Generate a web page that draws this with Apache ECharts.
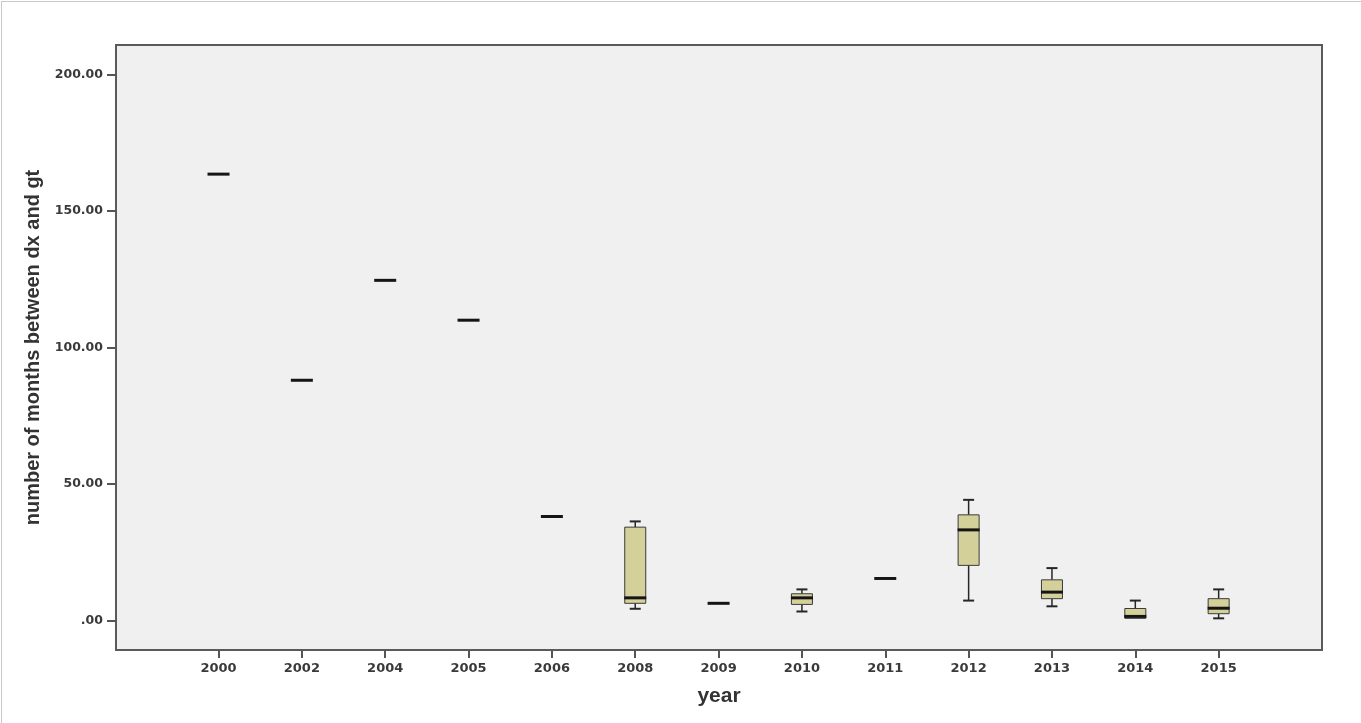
<!DOCTYPE html>
<html>
<head>
<meta charset="utf-8">
<script src="https://cdn.jsdelivr.net/npm/echarts@6/dist/echarts.min.js"></script>
<style>
  html, body { margin: 0; padding: 0; background: #ffffff; }
  #wrap { position: relative; width: 1361px; height: 723px; }
  #chart { position: absolute; left: 0; top: 0; width: 1361px; height: 723px; }
  #edge { position: absolute; left: 1px; top: 1px; right: 0; bottom: 0;
          border-top: 1px solid #c8c8c8; border-left: 1px solid #c8c8c8; pointer-events: none; }
</style>
</head>
<body>
<div id="wrap"><div id="chart"></div><div id="edge"></div></div>
<script>
// ---- data ----
const years   = ['2000','2002','2004','2005','2006','2008','2009','2010','2011','2012','2013','2014','2015'];
const mins    = [163.5, 88.0, 124.6, 110.0, 38.1,  4.3, 6.3,  3.3, 15.4,  7.3,  5.2, 0.8,  0.8];
const q1s     = [163.5, 88.0, 124.6, 110.0, 38.1,  6.3, 6.3,  5.9, 15.4, 20.2,  8.0, 0.8,  2.5];
const medians = [163.5, 88.0, 124.6, 110.0, 38.1,  8.3, 6.3,  8.3, 15.4, 33.2, 10.4, 1.5,  4.5];
const q3s     = [163.5, 88.0, 124.6, 110.0, 38.1, 34.2, 6.3,  9.8, 15.4, 38.7, 14.9, 4.4,  8.0];
const maxs    = [163.5, 88.0, 124.6, 110.0, 38.1, 36.3, 6.3, 11.4, 15.4, 44.2, 19.2, 7.3, 11.4];
const yTicks  = [0, 50, 100, 150, 200];

const seriesData = years.map((y, i) => [i, mins[i], q1s[i], medians[i], q3s[i], maxs[i]]);
const xIdx = years.map((y, i) => i);

const BOX_FILL = '#d4d09a';
const LINE = '#262626';

function renderItem(params, api) {
  const x = api.value(0);
  const vMin = api.value(1), vQ1 = api.value(2), vMed = api.value(3), vQ3 = api.value(4), vMax = api.value(5);
  const pMin = api.coord([x, vMin]);
  const pQ1 = api.coord([x, vQ1]);
  const pMed = api.coord([x, vMed]);
  const pQ3 = api.coord([x, vQ3]);
  const pMax = api.coord([x, vMax]);
  const cx = pMed[0];
  const bw = 21, cw = 11, mw = 22;
  const children = [];
  const lineStyle = { stroke: LINE, lineWidth: 1.5 };
  if (vMax > vQ3) {
    children.push({ type: 'line', shape: { x1: cx, y1: pQ3[1], x2: cx, y2: pMax[1] }, style: lineStyle });
    children.push({ type: 'line', shape: { x1: cx - cw / 2, y1: pMax[1], x2: cx + cw / 2, y2: pMax[1] }, style: { stroke: LINE, lineWidth: 2 } });
  }
  if (vMin < vQ1) {
    children.push({ type: 'line', shape: { x1: cx, y1: pQ1[1], x2: cx, y2: pMin[1] }, style: lineStyle });
    children.push({ type: 'line', shape: { x1: cx - cw / 2, y1: pMin[1], x2: cx + cw / 2, y2: pMin[1] }, style: { stroke: LINE, lineWidth: 2 } });
  }
  if (vQ3 > vQ1) {
    children.push({ type: 'rect', shape: { x: cx - bw / 2, y: pQ3[1], width: bw, height: pQ1[1] - pQ3[1] },
      style: { fill: BOX_FILL, stroke: '#3a3a3a', lineWidth: 1 } });
  }
  children.push({ type: 'line', shape: { x1: cx - mw / 2, y1: pMed[1], x2: cx + mw / 2, y2: pMed[1] },
    style: { stroke: '#151515', lineWidth: 3 } });
  return { type: 'group', children: children };
}

const chart = echarts.init(document.getElementById('chart'), null, { renderer: 'canvas' });
const tickFont = { fontFamily: '"DejaVu Sans"', fontWeight: 'bold', fontSize: 12.5, color: '#3a3a3a' };

chart.setOption({
  animation: false,
  backgroundColor: '#ffffff',
  grid: {
    left: 116, right: 39, top: 45, bottom: 73,
    show: true, backgroundColor: '#f0f0f0', borderColor: '#5a5a5a', borderWidth: 2
  },
  xAxis: {
    type: 'value',
    min: -1.23, max: 13.24,
    name: 'year',
    nameLocation: 'middle',
    nameGap: 36,
    nameTextStyle: { fontFamily: '"Liberation Sans", Arial', fontWeight: 'bold', fontSize: 21, color: '#333' },
    axisLine: { show: false, onZero: false },
    splitLine: { show: false },
    axisTick: { show: true, length: 8, customValues: xIdx, lineStyle: { color: '#555', width: 2 } },
    axisLabel: Object.assign({ customValues: xIdx, margin: 12,
      formatter: v => years[Math.round(v)] }, tickFont, { fontSize: 13 })
  },
  yAxis: {
    type: 'value',
    min: -10.8, max: 210.8,
    name: 'number of months between dx and gt',
    nameLocation: 'middle',
    nameGap: 62,
    nameTextStyle: { fontFamily: '"Liberation Sans", Arial', fontWeight: 'bold', fontSize: 20, color: '#333' },
    axisLine: { show: false, onZero: false },
    splitLine: { show: false },
    axisTick: { show: true, length: 9, customValues: yTicks, lineStyle: { color: '#555', width: 2 } },
    axisLabel: Object.assign({ customValues: yTicks, margin: 13,
      formatter: v => (v === 0 ? '.00' : v.toFixed(2)) }, tickFont)
  },
  series: [{
    type: 'custom',
    renderItem: renderItem,
    encode: { x: 0, y: [1, 2, 3, 4, 5] },
    data: seriesData,
    clip: true
  }]
});
</script>
</body>
</html>
